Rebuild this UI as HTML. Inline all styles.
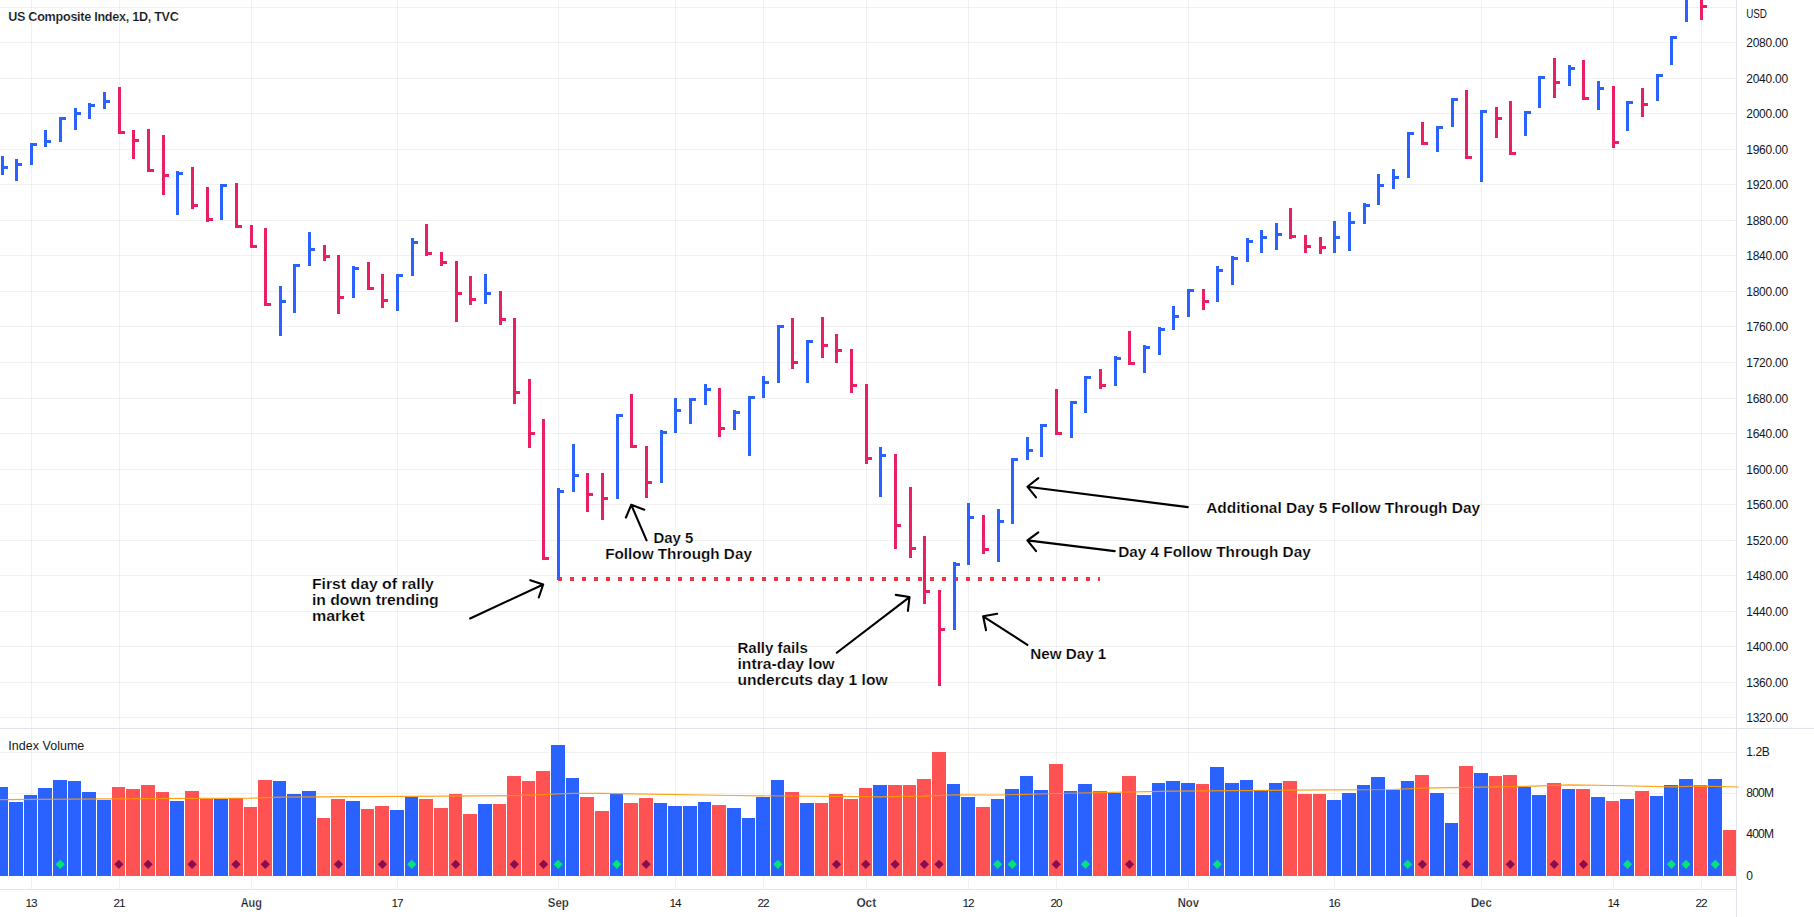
<!DOCTYPE html><html><head><meta charset="utf-8"><title>US Composite Index</title><style>html,body{margin:0;padding:0;background:#fff}body{width:1814px;height:917px;overflow:hidden}</style></head><body><svg width="1814" height="917" viewBox="0 0 1814 917" style="display:block;font-family:'Liberation Sans',sans-serif">
<rect width="1814" height="917" fill="#fff"/>
<g fill="rgba(42,46,57,0.065)" shape-rendering="crispEdges">
<rect x="0" y="7" width="1736" height="1"/>
<rect x="0" y="42" width="1736" height="1"/>
<rect x="0" y="78" width="1736" height="1"/>
<rect x="0" y="113" width="1736" height="1"/>
<rect x="0" y="149" width="1736" height="1"/>
<rect x="0" y="184" width="1736" height="1"/>
<rect x="0" y="220" width="1736" height="1"/>
<rect x="0" y="255" width="1736" height="1"/>
<rect x="0" y="291" width="1736" height="1"/>
<rect x="0" y="326" width="1736" height="1"/>
<rect x="0" y="362" width="1736" height="1"/>
<rect x="0" y="398" width="1736" height="1"/>
<rect x="0" y="433" width="1736" height="1"/>
<rect x="0" y="469" width="1736" height="1"/>
<rect x="0" y="504" width="1736" height="1"/>
<rect x="0" y="540" width="1736" height="1"/>
<rect x="0" y="575" width="1736" height="1"/>
<rect x="0" y="611" width="1736" height="1"/>
<rect x="0" y="646" width="1736" height="1"/>
<rect x="0" y="682" width="1736" height="1"/>
<rect x="0" y="717" width="1736" height="1"/>
<rect x="0" y="752" width="1736" height="1"/>
<rect x="0" y="793" width="1736" height="1"/>
<rect x="0" y="834" width="1736" height="1"/>
<rect x="0" y="875" width="1736" height="1"/>
<rect x="31" y="0" width="1" height="728"/>
<rect x="31" y="729" width="1" height="160"/>
<rect x="119" y="0" width="1" height="728"/>
<rect x="119" y="729" width="1" height="160"/>
<rect x="251" y="0" width="1" height="728"/>
<rect x="251" y="729" width="1" height="160"/>
<rect x="397" y="0" width="1" height="728"/>
<rect x="397" y="729" width="1" height="160"/>
<rect x="558" y="0" width="1" height="728"/>
<rect x="558" y="729" width="1" height="160"/>
<rect x="675" y="0" width="1" height="728"/>
<rect x="675" y="729" width="1" height="160"/>
<rect x="763" y="0" width="1" height="728"/>
<rect x="763" y="729" width="1" height="160"/>
<rect x="866" y="0" width="1" height="728"/>
<rect x="866" y="729" width="1" height="160"/>
<rect x="968" y="0" width="1" height="728"/>
<rect x="968" y="729" width="1" height="160"/>
<rect x="1056" y="0" width="1" height="728"/>
<rect x="1056" y="729" width="1" height="160"/>
<rect x="1188" y="0" width="1" height="728"/>
<rect x="1188" y="729" width="1" height="160"/>
<rect x="1334" y="0" width="1" height="728"/>
<rect x="1334" y="729" width="1" height="160"/>
<rect x="1481" y="0" width="1" height="728"/>
<rect x="1481" y="729" width="1" height="160"/>
<rect x="1613" y="0" width="1" height="728"/>
<rect x="1613" y="729" width="1" height="160"/>
<rect x="1701" y="0" width="1" height="728"/>
<rect x="1701" y="729" width="1" height="160"/>
</g>
<g fill="#e0e3eb" shape-rendering="crispEdges">
<rect x="0" y="728" width="1814" height="1"/>
<rect x="1736" y="0" width="1" height="917"/>
<rect x="0" y="889" width="1736" height="1"/>
</g>
<g shape-rendering="crispEdges">
<rect x="0" y="787" width="8" height="89" fill="#2962ff"/>
<rect x="9" y="802" width="14" height="74" fill="#2962ff"/>
<rect x="24" y="795" width="13" height="81" fill="#2962ff"/>
<rect x="38" y="788" width="14" height="88" fill="#2962ff"/>
<rect x="53" y="780" width="14" height="96" fill="#2962ff"/>
<rect x="68" y="781" width="13" height="95" fill="#2962ff"/>
<rect x="82" y="792" width="14" height="84" fill="#2962ff"/>
<rect x="97" y="800" width="14" height="76" fill="#2962ff"/>
<rect x="112" y="787" width="13" height="89" fill="#ff5252"/>
<rect x="126" y="789" width="14" height="87" fill="#ff5252"/>
<rect x="141" y="785" width="14" height="91" fill="#ff5252"/>
<rect x="156" y="792" width="13" height="84" fill="#ff5252"/>
<rect x="170" y="801" width="14" height="75" fill="#2962ff"/>
<rect x="185" y="791" width="14" height="85" fill="#ff5252"/>
<rect x="200" y="799" width="13" height="77" fill="#ff5252"/>
<rect x="214" y="799" width="14" height="77" fill="#2962ff"/>
<rect x="229" y="798" width="14" height="78" fill="#ff5252"/>
<rect x="244" y="807" width="13" height="69" fill="#ff5252"/>
<rect x="258" y="780" width="14" height="96" fill="#ff5252"/>
<rect x="273" y="781" width="13" height="95" fill="#2962ff"/>
<rect x="287" y="794" width="14" height="82" fill="#2962ff"/>
<rect x="302" y="791" width="14" height="85" fill="#2962ff"/>
<rect x="317" y="818" width="13" height="58" fill="#ff5252"/>
<rect x="331" y="799" width="14" height="77" fill="#ff5252"/>
<rect x="346" y="801" width="14" height="75" fill="#2962ff"/>
<rect x="361" y="809" width="13" height="67" fill="#ff5252"/>
<rect x="375" y="806" width="14" height="70" fill="#ff5252"/>
<rect x="390" y="810" width="14" height="66" fill="#2962ff"/>
<rect x="405" y="797" width="13" height="79" fill="#2962ff"/>
<rect x="419" y="799" width="14" height="77" fill="#ff5252"/>
<rect x="434" y="808" width="14" height="68" fill="#ff5252"/>
<rect x="449" y="794" width="13" height="82" fill="#ff5252"/>
<rect x="463" y="814" width="14" height="62" fill="#ff5252"/>
<rect x="478" y="804" width="14" height="72" fill="#2962ff"/>
<rect x="493" y="804" width="13" height="72" fill="#ff5252"/>
<rect x="507" y="776" width="14" height="100" fill="#ff5252"/>
<rect x="522" y="781" width="13" height="95" fill="#ff5252"/>
<rect x="536" y="771" width="14" height="105" fill="#ff5252"/>
<rect x="551" y="745" width="14" height="131" fill="#2962ff"/>
<rect x="566" y="778" width="13" height="98" fill="#2962ff"/>
<rect x="580" y="797" width="14" height="79" fill="#ff5252"/>
<rect x="595" y="811" width="14" height="65" fill="#ff5252"/>
<rect x="610" y="794" width="13" height="82" fill="#2962ff"/>
<rect x="624" y="803" width="14" height="73" fill="#ff5252"/>
<rect x="639" y="798" width="14" height="78" fill="#ff5252"/>
<rect x="654" y="803" width="13" height="73" fill="#2962ff"/>
<rect x="668" y="806" width="14" height="70" fill="#2962ff"/>
<rect x="683" y="806" width="14" height="70" fill="#2962ff"/>
<rect x="698" y="802" width="13" height="74" fill="#2962ff"/>
<rect x="712" y="805" width="14" height="71" fill="#ff5252"/>
<rect x="727" y="808" width="14" height="68" fill="#2962ff"/>
<rect x="742" y="818" width="13" height="58" fill="#2962ff"/>
<rect x="756" y="797" width="14" height="79" fill="#2962ff"/>
<rect x="771" y="780" width="13" height="96" fill="#2962ff"/>
<rect x="785" y="792" width="14" height="84" fill="#ff5252"/>
<rect x="800" y="803" width="14" height="73" fill="#2962ff"/>
<rect x="815" y="803" width="13" height="73" fill="#ff5252"/>
<rect x="829" y="794" width="14" height="82" fill="#ff5252"/>
<rect x="844" y="799" width="14" height="77" fill="#ff5252"/>
<rect x="859" y="788" width="13" height="88" fill="#ff5252"/>
<rect x="873" y="785" width="14" height="91" fill="#2962ff"/>
<rect x="888" y="785" width="14" height="91" fill="#ff5252"/>
<rect x="903" y="785" width="13" height="91" fill="#ff5252"/>
<rect x="917" y="779" width="14" height="97" fill="#ff5252"/>
<rect x="932" y="752" width="14" height="124" fill="#ff5252"/>
<rect x="947" y="784" width="13" height="92" fill="#2962ff"/>
<rect x="961" y="797" width="14" height="79" fill="#2962ff"/>
<rect x="976" y="807" width="14" height="69" fill="#ff5252"/>
<rect x="991" y="799" width="13" height="77" fill="#2962ff"/>
<rect x="1005" y="789" width="14" height="87" fill="#2962ff"/>
<rect x="1020" y="776" width="13" height="100" fill="#2962ff"/>
<rect x="1034" y="790" width="14" height="86" fill="#2962ff"/>
<rect x="1049" y="764" width="14" height="112" fill="#ff5252"/>
<rect x="1064" y="791" width="13" height="85" fill="#2962ff"/>
<rect x="1078" y="784" width="14" height="92" fill="#2962ff"/>
<rect x="1093" y="791" width="14" height="85" fill="#ff5252"/>
<rect x="1108" y="793" width="13" height="83" fill="#2962ff"/>
<rect x="1122" y="776" width="14" height="100" fill="#ff5252"/>
<rect x="1137" y="795" width="14" height="81" fill="#2962ff"/>
<rect x="1152" y="783" width="13" height="93" fill="#2962ff"/>
<rect x="1166" y="781" width="14" height="95" fill="#2962ff"/>
<rect x="1181" y="783" width="14" height="93" fill="#2962ff"/>
<rect x="1196" y="784" width="13" height="92" fill="#ff5252"/>
<rect x="1210" y="767" width="14" height="109" fill="#2962ff"/>
<rect x="1225" y="783" width="14" height="93" fill="#2962ff"/>
<rect x="1240" y="780" width="13" height="96" fill="#2962ff"/>
<rect x="1254" y="790" width="14" height="86" fill="#2962ff"/>
<rect x="1269" y="783" width="13" height="93" fill="#2962ff"/>
<rect x="1283" y="781" width="14" height="95" fill="#ff5252"/>
<rect x="1298" y="794" width="14" height="82" fill="#ff5252"/>
<rect x="1313" y="794" width="13" height="82" fill="#ff5252"/>
<rect x="1327" y="800" width="14" height="76" fill="#2962ff"/>
<rect x="1342" y="793" width="14" height="83" fill="#2962ff"/>
<rect x="1357" y="785" width="13" height="91" fill="#2962ff"/>
<rect x="1371" y="777" width="14" height="99" fill="#2962ff"/>
<rect x="1386" y="790" width="14" height="86" fill="#2962ff"/>
<rect x="1401" y="781" width="13" height="95" fill="#2962ff"/>
<rect x="1415" y="775" width="14" height="101" fill="#ff5252"/>
<rect x="1430" y="793" width="14" height="83" fill="#2962ff"/>
<rect x="1445" y="823" width="13" height="53" fill="#2962ff"/>
<rect x="1459" y="766" width="14" height="110" fill="#ff5252"/>
<rect x="1474" y="773" width="14" height="103" fill="#2962ff"/>
<rect x="1489" y="776" width="13" height="100" fill="#ff5252"/>
<rect x="1503" y="775" width="14" height="101" fill="#ff5252"/>
<rect x="1518" y="787" width="13" height="89" fill="#2962ff"/>
<rect x="1532" y="795" width="14" height="81" fill="#2962ff"/>
<rect x="1547" y="783" width="14" height="93" fill="#ff5252"/>
<rect x="1562" y="789" width="13" height="87" fill="#2962ff"/>
<rect x="1576" y="789" width="14" height="87" fill="#ff5252"/>
<rect x="1591" y="797" width="14" height="79" fill="#2962ff"/>
<rect x="1606" y="801" width="13" height="75" fill="#ff5252"/>
<rect x="1620" y="799" width="14" height="77" fill="#2962ff"/>
<rect x="1635" y="791" width="14" height="85" fill="#ff5252"/>
<rect x="1650" y="796" width="13" height="80" fill="#2962ff"/>
<rect x="1664" y="785" width="14" height="91" fill="#2962ff"/>
<rect x="1679" y="779" width="14" height="97" fill="#2962ff"/>
<rect x="1694" y="785" width="13" height="91" fill="#ff5252"/>
<rect x="1708" y="779" width="14" height="97" fill="#2962ff"/>
<rect x="1723" y="830" width="13" height="46" fill="#ff5252"/>
</g>
<polyline points="-5.8,799.6 148.0,798.6 250.5,798.2 279.8,797.2 441.0,796.2 514.2,795.6 528.8,795.2 543.5,794.6 558.1,793.8 572.8,793.4 602.1,793.4 733.9,795.5 880.4,796.9 924.3,796.2 953.6,794.8 997.5,795.0 1056.1,793.5 1173.3,791.2 1290.5,790.2 1393.0,789.5 1422.3,788.2 1466.2,787.3 1524.8,786.3 1568.8,784.8 1612.7,785.5 1671.3,786.9 1700.6,786.2 1738.7,787.0" fill="none" stroke="#ff9800" stroke-width="1.2" stroke-opacity="0.9"/>
<path d="M60.2 859.7L64.8 864.3L60.2 868.9L55.6 864.3Z" fill="#00e676"/>
<path d="M411.8 859.7L416.4 864.3L411.8 868.9L407.2 864.3Z" fill="#00e676"/>
<path d="M558.2 859.7L562.8 864.3L558.2 868.9L553.6 864.3Z" fill="#00e676"/>
<path d="M616.8 859.7L621.4 864.3L616.8 868.9L612.2 864.3Z" fill="#00e676"/>
<path d="M777.9 859.7L782.5 864.3L777.9 868.9L773.3 864.3Z" fill="#00e676"/>
<path d="M997.6 859.7L1002.2 864.3L997.6 868.9L993.0 864.3Z" fill="#00e676"/>
<path d="M1012.3 859.7L1016.9 864.3L1012.3 868.9L1007.7 864.3Z" fill="#00e676"/>
<path d="M1085.5 859.7L1090.1 864.3L1085.5 868.9L1080.9 864.3Z" fill="#00e676"/>
<path d="M1217.3 859.7L1221.9 864.3L1217.3 868.9L1212.7 864.3Z" fill="#00e676"/>
<path d="M1407.8 859.7L1412.4 864.3L1407.8 868.9L1403.2 864.3Z" fill="#00e676"/>
<path d="M1627.5 859.7L1632.1 864.3L1627.5 868.9L1622.9 864.3Z" fill="#00e676"/>
<path d="M1671.4 859.7L1676.0 864.3L1671.4 868.9L1666.8 864.3Z" fill="#00e676"/>
<path d="M1686.0 859.7L1690.6 864.3L1686.0 868.9L1681.4 864.3Z" fill="#00e676"/>
<path d="M1715.3 859.7L1719.9 864.3L1715.3 868.9L1710.7 864.3Z" fill="#00e676"/>
<path d="M118.8 859.7L123.4 864.3L118.8 868.9L114.2 864.3Z" fill="#880e4f"/>
<path d="M148.1 859.7L152.7 864.3L148.1 868.9L143.5 864.3Z" fill="#880e4f"/>
<path d="M192.1 859.7L196.7 864.3L192.1 868.9L187.5 864.3Z" fill="#880e4f"/>
<path d="M236.0 859.7L240.6 864.3L236.0 868.9L231.4 864.3Z" fill="#880e4f"/>
<path d="M265.3 859.7L269.9 864.3L265.3 868.9L260.7 864.3Z" fill="#880e4f"/>
<path d="M338.5 859.7L343.1 864.3L338.5 868.9L333.9 864.3Z" fill="#880e4f"/>
<path d="M382.5 859.7L387.1 864.3L382.5 868.9L377.9 864.3Z" fill="#880e4f"/>
<path d="M455.7 859.7L460.3 864.3L455.7 868.9L451.1 864.3Z" fill="#880e4f"/>
<path d="M514.3 859.7L518.9 864.3L514.3 868.9L509.7 864.3Z" fill="#880e4f"/>
<path d="M543.6 859.7L548.2 864.3L543.6 868.9L539.0 864.3Z" fill="#880e4f"/>
<path d="M646.1 859.7L650.7 864.3L646.1 868.9L641.5 864.3Z" fill="#880e4f"/>
<path d="M836.5 859.7L841.1 864.3L836.5 868.9L831.9 864.3Z" fill="#880e4f"/>
<path d="M865.8 859.7L870.4 864.3L865.8 868.9L861.2 864.3Z" fill="#880e4f"/>
<path d="M895.1 859.7L899.7 864.3L895.1 868.9L890.5 864.3Z" fill="#880e4f"/>
<path d="M924.4 859.7L929.0 864.3L924.4 868.9L919.8 864.3Z" fill="#880e4f"/>
<path d="M939.0 859.7L943.6 864.3L939.0 868.9L934.4 864.3Z" fill="#880e4f"/>
<path d="M1056.2 859.7L1060.8 864.3L1056.2 868.9L1051.6 864.3Z" fill="#880e4f"/>
<path d="M1129.5 859.7L1134.1 864.3L1129.5 868.9L1124.9 864.3Z" fill="#880e4f"/>
<path d="M1422.4 859.7L1427.0 864.3L1422.4 868.9L1417.8 864.3Z" fill="#880e4f"/>
<path d="M1466.3 859.7L1470.9 864.3L1466.3 868.9L1461.7 864.3Z" fill="#880e4f"/>
<path d="M1510.3 859.7L1514.9 864.3L1510.3 868.9L1505.7 864.3Z" fill="#880e4f"/>
<path d="M1554.2 859.7L1558.8 864.3L1554.2 868.9L1549.6 864.3Z" fill="#880e4f"/>
<path d="M1583.5 859.7L1588.1 864.3L1583.5 868.9L1578.9 864.3Z" fill="#880e4f"/>
<g fill="#f23645" shape-rendering="crispEdges">
<rect x="558" y="577" width="4" height="4"/>
<rect x="570" y="577" width="4" height="4"/>
<rect x="582" y="577" width="4" height="4"/>
<rect x="594" y="577" width="4" height="4"/>
<rect x="606" y="577" width="4" height="4"/>
<rect x="618" y="577" width="4" height="4"/>
<rect x="630" y="577" width="4" height="4"/>
<rect x="642" y="577" width="4" height="4"/>
<rect x="654" y="577" width="4" height="4"/>
<rect x="666" y="577" width="4" height="4"/>
<rect x="678" y="577" width="4" height="4"/>
<rect x="690" y="577" width="4" height="4"/>
<rect x="702" y="577" width="4" height="4"/>
<rect x="714" y="577" width="4" height="4"/>
<rect x="726" y="577" width="4" height="4"/>
<rect x="738" y="577" width="4" height="4"/>
<rect x="750" y="577" width="4" height="4"/>
<rect x="762" y="577" width="4" height="4"/>
<rect x="774" y="577" width="4" height="4"/>
<rect x="786" y="577" width="4" height="4"/>
<rect x="798" y="577" width="4" height="4"/>
<rect x="810" y="577" width="4" height="4"/>
<rect x="822" y="577" width="4" height="4"/>
<rect x="834" y="577" width="4" height="4"/>
<rect x="846" y="577" width="4" height="4"/>
<rect x="858" y="577" width="4" height="4"/>
<rect x="870" y="577" width="4" height="4"/>
<rect x="882" y="577" width="4" height="4"/>
<rect x="894" y="577" width="4" height="4"/>
<rect x="906" y="577" width="4" height="4"/>
<rect x="918" y="577" width="4" height="4"/>
<rect x="930" y="577" width="4" height="4"/>
<rect x="942" y="577" width="4" height="4"/>
<rect x="954" y="577" width="4" height="4"/>
<rect x="966" y="577" width="4" height="4"/>
<rect x="978" y="577" width="4" height="4"/>
<rect x="990" y="577" width="4" height="4"/>
<rect x="1002" y="577" width="4" height="4"/>
<rect x="1014" y="577" width="4" height="4"/>
<rect x="1026" y="577" width="4" height="4"/>
<rect x="1038" y="577" width="4" height="4"/>
<rect x="1050" y="577" width="4" height="4"/>
<rect x="1062" y="577" width="4" height="4"/>
<rect x="1074" y="577" width="4" height="4"/>
<rect x="1086" y="577" width="4" height="4"/>
<rect x="1098" y="577" width="2" height="4"/>
</g>
<g shape-rendering="crispEdges">
<rect x="1" y="156" width="3" height="19" fill="#2962ff"/>
<rect x="4" y="166" width="4" height="3" fill="#2962ff"/>
<rect x="15" y="159" width="3" height="22" fill="#2962ff"/>
<rect x="18" y="163" width="4" height="3" fill="#2962ff"/>
<rect x="30" y="143" width="3" height="22" fill="#2962ff"/>
<rect x="33" y="143" width="4" height="3" fill="#2962ff"/>
<rect x="44" y="130" width="3" height="17" fill="#2962ff"/>
<rect x="47" y="140" width="4" height="3" fill="#2962ff"/>
<rect x="59" y="117" width="3" height="25" fill="#2962ff"/>
<rect x="62" y="117" width="4" height="3" fill="#2962ff"/>
<rect x="74" y="108" width="3" height="22" fill="#2962ff"/>
<rect x="77" y="112" width="4" height="3" fill="#2962ff"/>
<rect x="88" y="103" width="3" height="16" fill="#2962ff"/>
<rect x="91" y="104" width="4" height="3" fill="#2962ff"/>
<rect x="103" y="92" width="3" height="17" fill="#2962ff"/>
<rect x="106" y="100" width="4" height="3" fill="#2962ff"/>
<rect x="118" y="87" width="3" height="47" fill="#e91e63"/>
<rect x="121" y="131" width="4" height="3" fill="#e91e63"/>
<rect x="132" y="130" width="3" height="29" fill="#e91e63"/>
<rect x="135" y="139" width="4" height="3" fill="#e91e63"/>
<rect x="147" y="129" width="3" height="43" fill="#e91e63"/>
<rect x="150" y="169" width="4" height="3" fill="#e91e63"/>
<rect x="162" y="135" width="3" height="60" fill="#e91e63"/>
<rect x="165" y="174" width="4" height="3" fill="#e91e63"/>
<rect x="176" y="171" width="3" height="44" fill="#2962ff"/>
<rect x="179" y="172" width="4" height="3" fill="#2962ff"/>
<rect x="191" y="167" width="3" height="42" fill="#e91e63"/>
<rect x="194" y="204" width="4" height="3" fill="#e91e63"/>
<rect x="206" y="187" width="3" height="35" fill="#e91e63"/>
<rect x="209" y="218" width="4" height="3" fill="#e91e63"/>
<rect x="220" y="184" width="3" height="36" fill="#2962ff"/>
<rect x="223" y="184" width="4" height="3" fill="#2962ff"/>
<rect x="235" y="183" width="3" height="45" fill="#e91e63"/>
<rect x="238" y="225" width="4" height="3" fill="#e91e63"/>
<rect x="250" y="225" width="3" height="23" fill="#e91e63"/>
<rect x="253" y="245" width="4" height="3" fill="#e91e63"/>
<rect x="264" y="228" width="3" height="78" fill="#e91e63"/>
<rect x="267" y="303" width="4" height="3" fill="#e91e63"/>
<rect x="279" y="286" width="3" height="50" fill="#2962ff"/>
<rect x="282" y="300" width="4" height="3" fill="#2962ff"/>
<rect x="293" y="264" width="3" height="49" fill="#2962ff"/>
<rect x="296" y="264" width="4" height="3" fill="#2962ff"/>
<rect x="308" y="232" width="3" height="34" fill="#2962ff"/>
<rect x="311" y="248" width="4" height="3" fill="#2962ff"/>
<rect x="323" y="245" width="3" height="16" fill="#e91e63"/>
<rect x="326" y="255" width="4" height="3" fill="#e91e63"/>
<rect x="337" y="255" width="3" height="59" fill="#e91e63"/>
<rect x="340" y="296" width="4" height="3" fill="#e91e63"/>
<rect x="352" y="266" width="3" height="32" fill="#2962ff"/>
<rect x="355" y="267" width="4" height="3" fill="#2962ff"/>
<rect x="367" y="262" width="3" height="28" fill="#e91e63"/>
<rect x="370" y="287" width="4" height="3" fill="#e91e63"/>
<rect x="381" y="274" width="3" height="34" fill="#e91e63"/>
<rect x="384" y="299" width="4" height="3" fill="#e91e63"/>
<rect x="396" y="274" width="3" height="37" fill="#2962ff"/>
<rect x="399" y="274" width="4" height="3" fill="#2962ff"/>
<rect x="411" y="238" width="3" height="38" fill="#2962ff"/>
<rect x="414" y="241" width="4" height="3" fill="#2962ff"/>
<rect x="425" y="224" width="3" height="32" fill="#e91e63"/>
<rect x="428" y="252" width="4" height="3" fill="#e91e63"/>
<rect x="440" y="252" width="3" height="14" fill="#e91e63"/>
<rect x="443" y="261" width="4" height="3" fill="#e91e63"/>
<rect x="455" y="261" width="3" height="61" fill="#e91e63"/>
<rect x="458" y="292" width="4" height="3" fill="#e91e63"/>
<rect x="469" y="276" width="3" height="29" fill="#e91e63"/>
<rect x="472" y="298" width="4" height="3" fill="#e91e63"/>
<rect x="484" y="274" width="3" height="30" fill="#2962ff"/>
<rect x="487" y="292" width="4" height="3" fill="#2962ff"/>
<rect x="499" y="291" width="3" height="34" fill="#e91e63"/>
<rect x="502" y="318" width="4" height="3" fill="#e91e63"/>
<rect x="513" y="318" width="3" height="86" fill="#e91e63"/>
<rect x="516" y="391" width="4" height="3" fill="#e91e63"/>
<rect x="528" y="379" width="3" height="69" fill="#e91e63"/>
<rect x="531" y="432" width="4" height="3" fill="#e91e63"/>
<rect x="542" y="419" width="3" height="141" fill="#e91e63"/>
<rect x="545" y="557" width="4" height="3" fill="#e91e63"/>
<rect x="557" y="488" width="3" height="92" fill="#2962ff"/>
<rect x="560" y="490" width="4" height="3" fill="#2962ff"/>
<rect x="572" y="444" width="3" height="48" fill="#2962ff"/>
<rect x="575" y="474" width="4" height="3" fill="#2962ff"/>
<rect x="586" y="473" width="3" height="39" fill="#e91e63"/>
<rect x="589" y="493" width="4" height="3" fill="#e91e63"/>
<rect x="601" y="473" width="3" height="47" fill="#e91e63"/>
<rect x="604" y="497" width="4" height="3" fill="#e91e63"/>
<rect x="616" y="414" width="3" height="85" fill="#2962ff"/>
<rect x="619" y="414" width="4" height="3" fill="#2962ff"/>
<rect x="630" y="394" width="3" height="54" fill="#e91e63"/>
<rect x="633" y="445" width="4" height="3" fill="#e91e63"/>
<rect x="645" y="446" width="3" height="52" fill="#e91e63"/>
<rect x="648" y="481" width="4" height="3" fill="#e91e63"/>
<rect x="660" y="430" width="3" height="53" fill="#2962ff"/>
<rect x="663" y="431" width="4" height="3" fill="#2962ff"/>
<rect x="674" y="398" width="3" height="35" fill="#2962ff"/>
<rect x="677" y="409" width="4" height="3" fill="#2962ff"/>
<rect x="689" y="398" width="3" height="26" fill="#2962ff"/>
<rect x="692" y="398" width="4" height="3" fill="#2962ff"/>
<rect x="704" y="384" width="3" height="21" fill="#2962ff"/>
<rect x="707" y="388" width="4" height="3" fill="#2962ff"/>
<rect x="718" y="388" width="3" height="49" fill="#e91e63"/>
<rect x="721" y="427" width="4" height="3" fill="#e91e63"/>
<rect x="733" y="410" width="3" height="20" fill="#2962ff"/>
<rect x="736" y="411" width="4" height="3" fill="#2962ff"/>
<rect x="748" y="396" width="3" height="60" fill="#2962ff"/>
<rect x="751" y="396" width="4" height="3" fill="#2962ff"/>
<rect x="762" y="376" width="3" height="22" fill="#2962ff"/>
<rect x="765" y="381" width="4" height="3" fill="#2962ff"/>
<rect x="777" y="325" width="3" height="58" fill="#2962ff"/>
<rect x="780" y="325" width="4" height="3" fill="#2962ff"/>
<rect x="791" y="318" width="3" height="51" fill="#e91e63"/>
<rect x="794" y="361" width="4" height="3" fill="#e91e63"/>
<rect x="806" y="340" width="3" height="43" fill="#2962ff"/>
<rect x="809" y="340" width="4" height="3" fill="#2962ff"/>
<rect x="821" y="317" width="3" height="41" fill="#e91e63"/>
<rect x="824" y="344" width="4" height="3" fill="#e91e63"/>
<rect x="835" y="334" width="3" height="29" fill="#e91e63"/>
<rect x="838" y="349" width="4" height="3" fill="#e91e63"/>
<rect x="850" y="349" width="3" height="44" fill="#e91e63"/>
<rect x="853" y="384" width="4" height="3" fill="#e91e63"/>
<rect x="865" y="384" width="3" height="80" fill="#e91e63"/>
<rect x="868" y="457" width="4" height="3" fill="#e91e63"/>
<rect x="879" y="447" width="3" height="50" fill="#2962ff"/>
<rect x="882" y="454" width="4" height="3" fill="#2962ff"/>
<rect x="894" y="454" width="3" height="95" fill="#e91e63"/>
<rect x="897" y="524" width="4" height="3" fill="#e91e63"/>
<rect x="909" y="487" width="3" height="71" fill="#e91e63"/>
<rect x="912" y="547" width="4" height="3" fill="#e91e63"/>
<rect x="923" y="536" width="3" height="68" fill="#e91e63"/>
<rect x="926" y="590" width="4" height="3" fill="#e91e63"/>
<rect x="938" y="590" width="3" height="96" fill="#e91e63"/>
<rect x="941" y="628" width="4" height="3" fill="#e91e63"/>
<rect x="953" y="562" width="3" height="68" fill="#2962ff"/>
<rect x="956" y="563" width="4" height="3" fill="#2962ff"/>
<rect x="967" y="503" width="3" height="62" fill="#2962ff"/>
<rect x="970" y="516" width="4" height="3" fill="#2962ff"/>
<rect x="982" y="515" width="3" height="39" fill="#e91e63"/>
<rect x="985" y="548" width="4" height="3" fill="#e91e63"/>
<rect x="997" y="509" width="3" height="53" fill="#2962ff"/>
<rect x="1000" y="520" width="4" height="3" fill="#2962ff"/>
<rect x="1011" y="458" width="3" height="66" fill="#2962ff"/>
<rect x="1014" y="458" width="4" height="3" fill="#2962ff"/>
<rect x="1026" y="437" width="3" height="23" fill="#2962ff"/>
<rect x="1029" y="449" width="4" height="3" fill="#2962ff"/>
<rect x="1040" y="424" width="3" height="33" fill="#2962ff"/>
<rect x="1043" y="424" width="4" height="3" fill="#2962ff"/>
<rect x="1055" y="389" width="3" height="46" fill="#e91e63"/>
<rect x="1058" y="432" width="4" height="3" fill="#e91e63"/>
<rect x="1070" y="401" width="3" height="37" fill="#2962ff"/>
<rect x="1073" y="401" width="4" height="3" fill="#2962ff"/>
<rect x="1084" y="376" width="3" height="37" fill="#2962ff"/>
<rect x="1087" y="376" width="4" height="3" fill="#2962ff"/>
<rect x="1099" y="369" width="3" height="20" fill="#e91e63"/>
<rect x="1102" y="384" width="4" height="3" fill="#e91e63"/>
<rect x="1114" y="356" width="3" height="30" fill="#2962ff"/>
<rect x="1117" y="357" width="4" height="3" fill="#2962ff"/>
<rect x="1128" y="331" width="3" height="34" fill="#e91e63"/>
<rect x="1131" y="362" width="4" height="3" fill="#e91e63"/>
<rect x="1143" y="345" width="3" height="28" fill="#2962ff"/>
<rect x="1146" y="346" width="4" height="3" fill="#2962ff"/>
<rect x="1158" y="327" width="3" height="28" fill="#2962ff"/>
<rect x="1161" y="328" width="4" height="3" fill="#2962ff"/>
<rect x="1172" y="306" width="3" height="24" fill="#2962ff"/>
<rect x="1175" y="315" width="4" height="3" fill="#2962ff"/>
<rect x="1187" y="289" width="3" height="28" fill="#2962ff"/>
<rect x="1190" y="289" width="4" height="3" fill="#2962ff"/>
<rect x="1202" y="289" width="3" height="21" fill="#e91e63"/>
<rect x="1205" y="300" width="4" height="3" fill="#e91e63"/>
<rect x="1216" y="266" width="3" height="36" fill="#2962ff"/>
<rect x="1219" y="269" width="4" height="3" fill="#2962ff"/>
<rect x="1231" y="256" width="3" height="29" fill="#2962ff"/>
<rect x="1234" y="257" width="4" height="3" fill="#2962ff"/>
<rect x="1246" y="238" width="3" height="24" fill="#2962ff"/>
<rect x="1249" y="240" width="4" height="3" fill="#2962ff"/>
<rect x="1260" y="230" width="3" height="23" fill="#2962ff"/>
<rect x="1263" y="236" width="4" height="3" fill="#2962ff"/>
<rect x="1275" y="223" width="3" height="27" fill="#2962ff"/>
<rect x="1278" y="233" width="4" height="3" fill="#2962ff"/>
<rect x="1289" y="208" width="3" height="31" fill="#e91e63"/>
<rect x="1292" y="235" width="4" height="3" fill="#e91e63"/>
<rect x="1304" y="235" width="3" height="18" fill="#e91e63"/>
<rect x="1307" y="245" width="4" height="3" fill="#e91e63"/>
<rect x="1319" y="237" width="3" height="17" fill="#e91e63"/>
<rect x="1322" y="246" width="4" height="3" fill="#e91e63"/>
<rect x="1333" y="221" width="3" height="32" fill="#2962ff"/>
<rect x="1336" y="236" width="4" height="3" fill="#2962ff"/>
<rect x="1348" y="212" width="3" height="39" fill="#2962ff"/>
<rect x="1351" y="221" width="4" height="3" fill="#2962ff"/>
<rect x="1363" y="203" width="3" height="21" fill="#2962ff"/>
<rect x="1366" y="204" width="4" height="3" fill="#2962ff"/>
<rect x="1377" y="174" width="3" height="31" fill="#2962ff"/>
<rect x="1380" y="184" width="4" height="3" fill="#2962ff"/>
<rect x="1392" y="169" width="3" height="20" fill="#2962ff"/>
<rect x="1395" y="176" width="4" height="3" fill="#2962ff"/>
<rect x="1407" y="132" width="3" height="46" fill="#2962ff"/>
<rect x="1410" y="132" width="4" height="3" fill="#2962ff"/>
<rect x="1421" y="122" width="3" height="23" fill="#e91e63"/>
<rect x="1424" y="142" width="4" height="3" fill="#e91e63"/>
<rect x="1436" y="126" width="3" height="26" fill="#2962ff"/>
<rect x="1439" y="126" width="4" height="3" fill="#2962ff"/>
<rect x="1451" y="98" width="3" height="29" fill="#2962ff"/>
<rect x="1454" y="98" width="4" height="3" fill="#2962ff"/>
<rect x="1465" y="90" width="3" height="69" fill="#e91e63"/>
<rect x="1468" y="156" width="4" height="3" fill="#e91e63"/>
<rect x="1480" y="110" width="3" height="72" fill="#2962ff"/>
<rect x="1483" y="110" width="4" height="3" fill="#2962ff"/>
<rect x="1495" y="107" width="3" height="31" fill="#e91e63"/>
<rect x="1498" y="117" width="4" height="3" fill="#e91e63"/>
<rect x="1509" y="101" width="3" height="54" fill="#e91e63"/>
<rect x="1512" y="152" width="4" height="3" fill="#e91e63"/>
<rect x="1524" y="111" width="3" height="25" fill="#2962ff"/>
<rect x="1527" y="111" width="4" height="3" fill="#2962ff"/>
<rect x="1538" y="76" width="3" height="32" fill="#2962ff"/>
<rect x="1541" y="76" width="4" height="3" fill="#2962ff"/>
<rect x="1553" y="58" width="3" height="40" fill="#e91e63"/>
<rect x="1556" y="81" width="4" height="3" fill="#e91e63"/>
<rect x="1568" y="65" width="3" height="21" fill="#2962ff"/>
<rect x="1571" y="67" width="4" height="3" fill="#2962ff"/>
<rect x="1582" y="60" width="3" height="40" fill="#e91e63"/>
<rect x="1585" y="97" width="4" height="3" fill="#e91e63"/>
<rect x="1597" y="81" width="3" height="29" fill="#2962ff"/>
<rect x="1600" y="87" width="4" height="3" fill="#2962ff"/>
<rect x="1612" y="86" width="3" height="62" fill="#e91e63"/>
<rect x="1615" y="141" width="4" height="3" fill="#e91e63"/>
<rect x="1626" y="101" width="3" height="30" fill="#2962ff"/>
<rect x="1629" y="101" width="4" height="3" fill="#2962ff"/>
<rect x="1641" y="88" width="3" height="29" fill="#e91e63"/>
<rect x="1644" y="103" width="4" height="3" fill="#e91e63"/>
<rect x="1656" y="74" width="3" height="27" fill="#2962ff"/>
<rect x="1659" y="74" width="4" height="3" fill="#2962ff"/>
<rect x="1670" y="36" width="3" height="29" fill="#2962ff"/>
<rect x="1673" y="36" width="4" height="3" fill="#2962ff"/>
<rect x="1685" y="0" width="3" height="22" fill="#2962ff"/>
<rect x="1700" y="0" width="3" height="20" fill="#e91e63"/>
<rect x="1703" y="5" width="4" height="3" fill="#e91e63"/>
</g>
<path d="M646.56 540.35L631.26 504.83M625.93 517.51L631.26 504.83L644.28 509.71" fill="none" stroke="#000" stroke-width="2.1" stroke-linecap="round" stroke-linejoin="round"/>
<path d="M470.14 618.45L543.18 584.48M530.31 580.17L543.18 584.48L538.77 597.47" fill="none" stroke="#000" stroke-width="2.1" stroke-linecap="round" stroke-linejoin="round"/>
<path d="M836.78 652.74L909.49 597.05M895.78 594.88L909.49 597.05L907.92 610.88" fill="none" stroke="#000" stroke-width="2.1" stroke-linecap="round" stroke-linejoin="round"/>
<path d="M1027.4 644.87L983.16 616.29M997.24 613.69L983.16 616.29L986.02 630.17" fill="none" stroke="#000" stroke-width="2.1" stroke-linecap="round" stroke-linejoin="round"/>
<path d="M1187.8 507.12L1027.39 486.71M1038.34 478.16L1027.39 486.71L1036.08 497.45" fill="none" stroke="#000" stroke-width="2.1" stroke-linecap="round" stroke-linejoin="round"/>
<path d="M1114.7 551.13L1027.39 540.41M1038.33 532.34L1027.39 540.41L1036.08 551.15" fill="none" stroke="#000" stroke-width="2.1" stroke-linecap="round" stroke-linejoin="round"/>
<text x="653.4" y="542.8" font-size="14.4" font-weight="bold" text-anchor="start" fill="#000" textLength="39.9" lengthAdjust="spacingAndGlyphs" stroke="#fff" stroke-width="0.2">Day 5</text>
<text x="605.2" y="559.1" font-size="14.4" font-weight="bold" text-anchor="start" fill="#000" textLength="146.7" lengthAdjust="spacingAndGlyphs" stroke="#fff" stroke-width="0.2">Follow Through Day</text>
<text x="311.9" y="589.0" font-size="14.4" font-weight="bold" text-anchor="start" fill="#000" textLength="122" lengthAdjust="spacingAndGlyphs" stroke="#fff" stroke-width="0.2">First day of rally</text>
<text x="311.9" y="605.3" font-size="14.4" font-weight="bold" text-anchor="start" fill="#000" textLength="126.8" lengthAdjust="spacingAndGlyphs" stroke="#fff" stroke-width="0.2">in down trending</text>
<text x="311.9" y="621.3" font-size="14.4" font-weight="bold" text-anchor="start" fill="#000" textLength="52.6" lengthAdjust="spacingAndGlyphs" stroke="#fff" stroke-width="0.2">market</text>
<text x="737.4" y="653.0" font-size="14.4" font-weight="bold" text-anchor="start" fill="#000" textLength="70.4" lengthAdjust="spacingAndGlyphs" stroke="#fff" stroke-width="0.2">Rally fails</text>
<text x="737.4" y="669.0" font-size="14.4" font-weight="bold" text-anchor="start" fill="#000" textLength="97.2" lengthAdjust="spacingAndGlyphs" stroke="#fff" stroke-width="0.2">intra-day low</text>
<text x="737.4" y="685.2" font-size="14.4" font-weight="bold" text-anchor="start" fill="#000" textLength="150.2" lengthAdjust="spacingAndGlyphs" stroke="#fff" stroke-width="0.2">undercuts day 1 low</text>
<text x="1030.3" y="659.4" font-size="14.4" font-weight="bold" text-anchor="start" fill="#000" textLength="76" lengthAdjust="spacingAndGlyphs" stroke="#fff" stroke-width="0.2">New Day 1</text>
<text x="1118.2" y="557.3" font-size="14.4" font-weight="bold" text-anchor="start" fill="#000" textLength="192.5" lengthAdjust="spacingAndGlyphs" stroke="#fff" stroke-width="0.2">Day 4 Follow Through Day</text>
<text x="1206.2" y="513.3" font-size="14.4" font-weight="bold" text-anchor="start" fill="#000" textLength="274" lengthAdjust="spacingAndGlyphs" stroke="#fff" stroke-width="0.2">Additional Day 5 Follow Through Day</text>
<text x="8.2" y="20.6" font-size="12.6" font-weight="bold" text-anchor="start" fill="#131722" textLength="170.6" lengthAdjust="spacing" stroke="#fff" stroke-width="0.15">US Composite Index, 1D, TVC</text>
<text x="8.3" y="749.8" font-size="12.5" text-anchor="start" fill="#131722" textLength="76" lengthAdjust="spacing">Index Volume</text>
<text x="1746.2" y="18.1" font-size="12" text-anchor="start" fill="#131722" textLength="20.8" lengthAdjust="spacingAndGlyphs">USD</text>
<text x="1746.2" y="46.9" font-size="12" text-anchor="start" fill="#131722" textLength="42" lengthAdjust="spacing">2080.00</text>
<text x="1746.2" y="82.9" font-size="12" text-anchor="start" fill="#131722" textLength="42" lengthAdjust="spacing">2040.00</text>
<text x="1746.2" y="117.9" font-size="12" text-anchor="start" fill="#131722" textLength="42" lengthAdjust="spacing">2000.00</text>
<text x="1746.2" y="153.9" font-size="12" text-anchor="start" fill="#131722" textLength="42" lengthAdjust="spacing">1960.00</text>
<text x="1746.2" y="188.9" font-size="12" text-anchor="start" fill="#131722" textLength="42" lengthAdjust="spacing">1920.00</text>
<text x="1746.2" y="224.9" font-size="12" text-anchor="start" fill="#131722" textLength="42" lengthAdjust="spacing">1880.00</text>
<text x="1746.2" y="259.9" font-size="12" text-anchor="start" fill="#131722" textLength="42" lengthAdjust="spacing">1840.00</text>
<text x="1746.2" y="295.9" font-size="12" text-anchor="start" fill="#131722" textLength="42" lengthAdjust="spacing">1800.00</text>
<text x="1746.2" y="330.9" font-size="12" text-anchor="start" fill="#131722" textLength="42" lengthAdjust="spacing">1760.00</text>
<text x="1746.2" y="366.9" font-size="12" text-anchor="start" fill="#131722" textLength="42" lengthAdjust="spacing">1720.00</text>
<text x="1746.2" y="402.9" font-size="12" text-anchor="start" fill="#131722" textLength="42" lengthAdjust="spacing">1680.00</text>
<text x="1746.2" y="437.9" font-size="12" text-anchor="start" fill="#131722" textLength="42" lengthAdjust="spacing">1640.00</text>
<text x="1746.2" y="473.9" font-size="12" text-anchor="start" fill="#131722" textLength="42" lengthAdjust="spacing">1600.00</text>
<text x="1746.2" y="508.9" font-size="12" text-anchor="start" fill="#131722" textLength="42" lengthAdjust="spacing">1560.00</text>
<text x="1746.2" y="544.9" font-size="12" text-anchor="start" fill="#131722" textLength="42" lengthAdjust="spacing">1520.00</text>
<text x="1746.2" y="579.9" font-size="12" text-anchor="start" fill="#131722" textLength="42" lengthAdjust="spacing">1480.00</text>
<text x="1746.2" y="615.9" font-size="12" text-anchor="start" fill="#131722" textLength="42" lengthAdjust="spacing">1440.00</text>
<text x="1746.2" y="650.9" font-size="12" text-anchor="start" fill="#131722" textLength="42" lengthAdjust="spacing">1400.00</text>
<text x="1746.2" y="686.9" font-size="12" text-anchor="start" fill="#131722" textLength="42" lengthAdjust="spacing">1360.00</text>
<text x="1746.2" y="721.9" font-size="12" text-anchor="start" fill="#131722" textLength="42" lengthAdjust="spacing">1320.00</text>
<text x="1746.2" y="755.9" font-size="12" text-anchor="start" fill="#131722" textLength="23.6" lengthAdjust="spacing">1.2B</text>
<text x="1746.2" y="797.0" font-size="12" text-anchor="start" fill="#131722" textLength="27.8" lengthAdjust="spacing">800M</text>
<text x="1746.2" y="838.2" font-size="12" text-anchor="start" fill="#131722" textLength="27.8" lengthAdjust="spacing">400M</text>
<text x="1746.2" y="880.0" font-size="12" text-anchor="start" fill="#131722">0</text>
<text x="31.5" y="907" font-size="11.8" text-anchor="middle" fill="#131722" textLength="12.1" lengthAdjust="spacing">13</text>
<text x="119.5" y="907" font-size="11.8" text-anchor="middle" fill="#131722" textLength="12.1" lengthAdjust="spacing">21</text>
<text x="251.3" y="907" font-size="12" font-weight="bold" text-anchor="middle" fill="#131722" textLength="21.2" lengthAdjust="spacingAndGlyphs" stroke="#fff" stroke-width="0.25">Aug</text>
<text x="397.5" y="907" font-size="11.8" text-anchor="middle" fill="#131722" textLength="12.1" lengthAdjust="spacing">17</text>
<text x="558.3" y="907" font-size="12" font-weight="bold" text-anchor="middle" fill="#131722" textLength="21.0" lengthAdjust="spacingAndGlyphs" stroke="#fff" stroke-width="0.25">Sep</text>
<text x="675.5" y="907" font-size="11.8" text-anchor="middle" fill="#131722" textLength="12.1" lengthAdjust="spacing">14</text>
<text x="763.5" y="907" font-size="11.8" text-anchor="middle" fill="#131722" textLength="12.1" lengthAdjust="spacing">22</text>
<text x="866.3" y="907" font-size="12" font-weight="bold" text-anchor="middle" fill="#131722" textLength="19.8" lengthAdjust="spacingAndGlyphs" stroke="#fff" stroke-width="0.25">Oct</text>
<text x="968.5" y="907" font-size="11.8" text-anchor="middle" fill="#131722" textLength="12.1" lengthAdjust="spacing">12</text>
<text x="1056.5" y="907" font-size="11.8" text-anchor="middle" fill="#131722" textLength="12.1" lengthAdjust="spacing">20</text>
<text x="1188.3" y="907" font-size="12" font-weight="bold" text-anchor="middle" fill="#131722" textLength="21.3" lengthAdjust="spacingAndGlyphs" stroke="#fff" stroke-width="0.25">Nov</text>
<text x="1334.5" y="907" font-size="11.8" text-anchor="middle" fill="#131722" textLength="12.1" lengthAdjust="spacing">16</text>
<text x="1481.3" y="907" font-size="12" font-weight="bold" text-anchor="middle" fill="#131722" textLength="20.8" lengthAdjust="spacingAndGlyphs" stroke="#fff" stroke-width="0.25">Dec</text>
<text x="1613.5" y="907" font-size="11.8" text-anchor="middle" fill="#131722" textLength="12.1" lengthAdjust="spacing">14</text>
<text x="1701.5" y="907" font-size="11.8" text-anchor="middle" fill="#131722" textLength="12.1" lengthAdjust="spacing">22</text>
</svg></body></html>
